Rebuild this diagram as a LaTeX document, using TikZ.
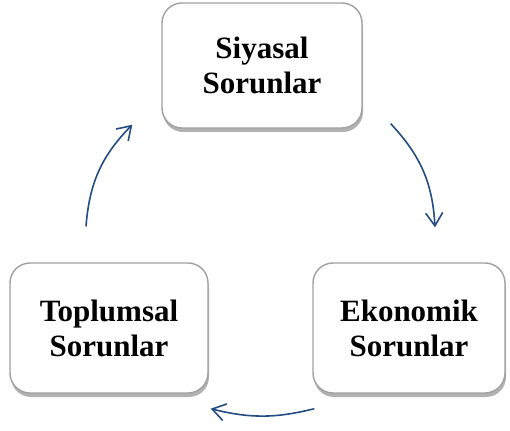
\documentclass[tikz,border=0pt]{standalone}
\usepackage{fontspec}
\setmainfont{Liberation Serif}
\usepackage{tikz}
\definecolor{cycleblue}{RGB}{36,76,130}
\definecolor{boxgray}{RGB}{160,160,160}
\usetikzlibrary{arrows.meta, shadows, positioning}

\begin{document}
\begin{tikzpicture}[x=1pt, y=-1pt,
				sorun/.style={draw=boxgray, line width=1.4pt, fill=white, rounded corners=20pt,
					align=center, font=\fontsize{31}{35}\selectfont\bfseries,
					drop shadow={shadow xshift=1pt, shadow yshift=-4pt, fill=black, opacity=0.3}},
				cyc/.style={draw=cycleblue, line width=1.6pt,
					-{Straight Barb[length=13pt, width=17pt, line width=1.6pt]}}]
				% Rahmen
				\useasboundingbox (0,0) rectangle (510,430);
				% Kutular
				\node[sorun, minimum width=200pt, minimum height=125pt] (siyasal) at (262,65.5) {Siyasal\\Sorunlar};
				\node[sorun, minimum width=192pt, minimum height=130pt] (ekonomik) at (409,328) {Ekonomik\\Sorunlar};
				\node[sorun, minimum width=198pt, minimum height=130pt] (toplumsal) at (109,328) {Toplumsal\\Sorunlar};
				% Oklar
				\draw[cyc] ([xshift=28pt, yshift=5pt]siyasal.south east) to[bend left=20] ([xshift=26pt, yshift=35pt]ekonomik.north);
				\draw[cyc] ([xshift=2pt, yshift=-15pt]ekonomik.south west) to[bend left=14] ([xshift=2pt, yshift=-15pt]toplumsal.south east);
				\draw[cyc] ([xshift=-23pt, yshift=36pt]toplumsal.north) to[bend left=20] ([xshift=-29pt, yshift=4pt]siyasal.south west);
			\end{tikzpicture}
\end{document}
